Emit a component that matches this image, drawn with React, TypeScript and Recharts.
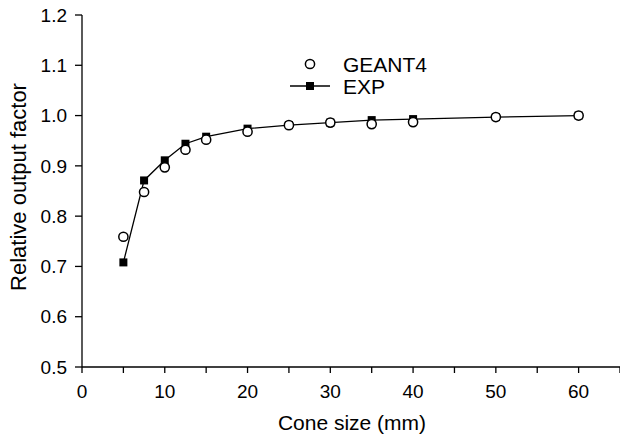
import React from 'react';
import { ComposedChart, Line, XAxis, YAxis, Legend } from 'recharts';

const coneSizes = [5, 7.5, 10, 12.5, 15, 20, 25, 30, 35, 40, 50, 60];
const geant4 = [0.759, 0.848, 0.897, 0.932, 0.952, 0.968, 0.981, 0.986, 0.983, 0.987, 0.997, 1.0];
const expValues = [0.708, 0.871, 0.911, 0.944, 0.958, 0.974, 0.981, 0.986, 0.991, 0.993, 0.997, 1.0];
const xTicks = [0, 5, 10, 15, 20, 25, 30, 35, 40, 45, 50, 55, 60, 65];
const yTicks = [0.5, 0.6, 0.7, 0.8, 0.9, 1.0, 1.1, 1.2];

const data = coneSizes.map((c, i) => ({ cone: c, geant4: geant4[i], exp: expValues[i] }));

const FONT = '"Liberation Sans", Arial, Helvetica, sans-serif';

const renderSquare = (props: any) => {
  const { cx, cy, index } = props;
  if (cx == null || cy == null) return <g key={`s${index}`} />;
  return <rect key={`s${index}`} x={cx - 4} y={cy - 4} width={8} height={8} fill="#000" />;
};

const renderCircle = (props: any) => {
  const { cx, cy, index } = props;
  if (cx == null || cy == null) return <g key={`c${index}`} />;
  return <circle key={`c${index}`} cx={cx} cy={cy} r={4.6} fill="#fff" stroke="#000" strokeWidth={1.5} />;
};

const LegendContent = () => (
  <svg width={170} height={60} style={{ overflow: 'visible' }}>
    <circle cx={25} cy={19} r={4.6} fill="#fff" stroke="#000" strokeWidth={1.5} />
    <text x={58} y={19} fontFamily={FONT} fontSize={21} fill="#000" dominantBaseline="central">GEANT4</text>
    <line x1={5} x2={45} y1={41} y2={41} stroke="#000" strokeWidth={1.3} />
    <rect x={21} y={37} width={8} height={8} fill="#000" />
    <text x={58} y={41} fontFamily={FONT} fontSize={21} fill="#000" dominantBaseline="central">EXP</text>
  </svg>
);

const YLabel = () => (
  <text
    x={18}
    y={187}
    transform="rotate(-90 18 187)"
    textAnchor="middle"
    dominantBaseline="central"
    fontFamily={FONT}
    fontSize={22}
    fill="#000"
  >
    Relative output factor
  </text>
);

const XLabel = () => (
  <text x={352} y={430} textAnchor="middle" fontFamily={FONT} fontSize={21} fill="#000">
    Cone size (mm)
  </text>
);

export default function App() {
  return (
    <div style={{ position: 'absolute', left: 0, top: 0, width: 620, height: 436, background: '#fff' }}>
      <ComposedChart width={620} height={436} data={data} margin={{ top: 15, right: 0, bottom: 0, left: 0 }}>
        <XAxis
          dataKey="cone"
          type="number"
          domain={[0, 65]}
          ticks={xTicks}
          interval={0}
          tickFormatter={(v: number) => (v % 10 === 0 ? String(v) : '')}
          height={69}
          tickSize={6}
          tickMargin={12}
          axisLine={{ stroke: '#000', strokeWidth: 1.3 }}
          tickLine={{ stroke: '#000', strokeWidth: 1.3 }}
          tick={{ fill: '#000', fontSize: 19, fontFamily: FONT }}
          label={{ content: () => <XLabel /> }}
        />
        <YAxis
          type="number"
          domain={[0.5, 1.2]}
          ticks={yTicks}
          interval={0}
          tickFormatter={(v: number) => v.toFixed(1)}
          width={82}
          tickSize={7}
          tickMargin={8}
          axisLine={{ stroke: '#000', strokeWidth: 1.3 }}
          tickLine={{ stroke: '#000', strokeWidth: 1.3 }}
          tick={{ fill: '#000', fontSize: 19, fontFamily: FONT }}
          label={{ content: () => <YLabel /> }}
        />
        <Legend
          layout="vertical"
          align="center"
          verticalAlign="middle"
          content={() => <LegendContent />}
          wrapperStyle={{ left: 285, top: 45, width: 170, height: 60 }}
        />
        <Line
          dataKey="exp"
          name="EXP"
          stroke="#000"
          strokeWidth={1.3}
          dot={renderSquare}
          activeDot={false}
          isAnimationActive={false}
          type="linear"
        />
        <Line
          dataKey="geant4"
          name="GEANT4"
          stroke="none"
          dot={renderCircle}
          activeDot={false}
          isAnimationActive={false}
          type="linear"
        />
      </ComposedChart>
    </div>
  );
}
